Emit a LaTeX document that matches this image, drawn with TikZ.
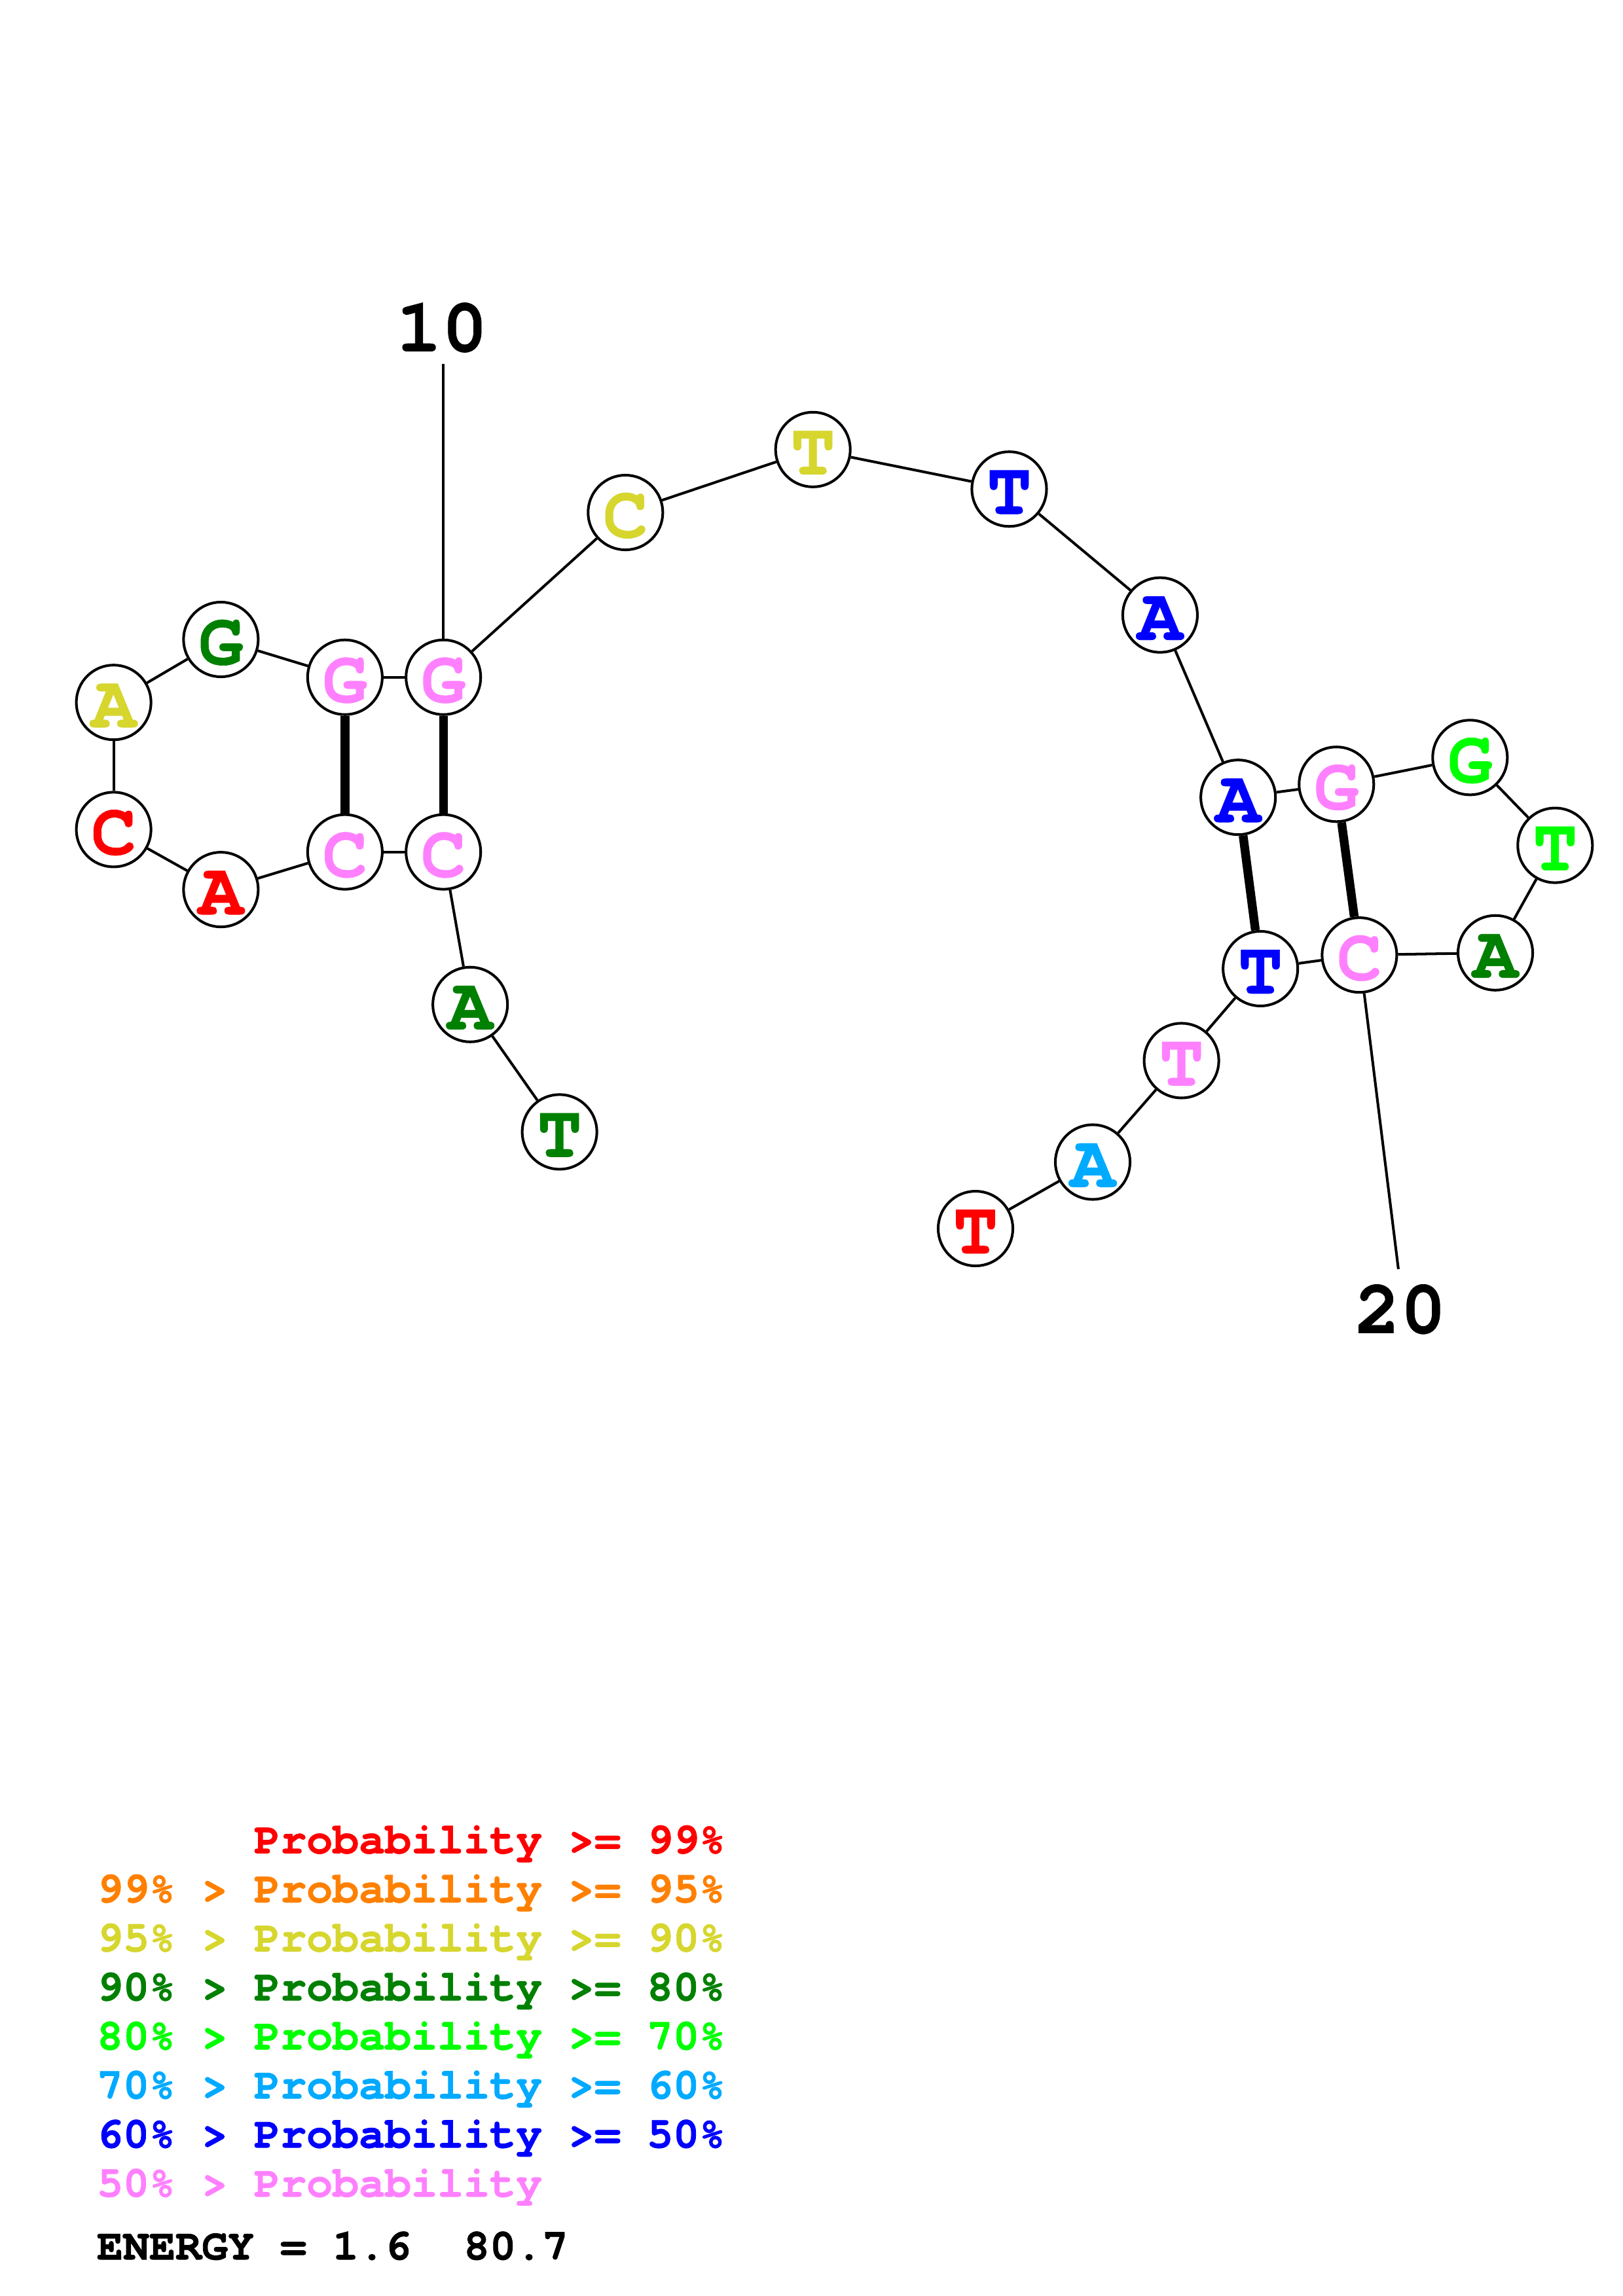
\documentclass[tikz,border=0pt]{standalone}
\usepackage{fontspec}
\newfontfamily\cur{texgyrecursor-bold}[Extension=.otf, FakeBold=0.6]
\newfontfamily\curleg{texgyrecursor-bold}[Extension=.otf, FakeBold=1.2]
\definecolor{rd}{RGB}{255,0,0}
\definecolor{og}{RGB}{255,128,0}
\definecolor{yl}{RGB}{214,214,46}
\definecolor{dg}{RGB}{0,128,0}
\definecolor{gr}{RGB}{0,255,0}
\definecolor{lb}{RGB}{0,170,255}
\definecolor{bl}{RGB}{0,0,255}
\definecolor{pk}{RGB}{255,128,255}
\tikzset{
  nt/.style={circle, draw=black, line width=1.8pt, fill=white, minimum size=51pt, inner sep=0pt,
    font=\cur\fontsize{51}{51}\selectfont, text height=34pt, text depth=0pt},
  bb/.style={line width=1.8pt},
  bp/.style={line width=6pt},
  lab/.style={inner sep=0pt, font=\cur\fontsize{52}{52}\selectfont},
  leg/.style={inner sep=0pt, anchor=base west, font=\curleg\fontsize{29.8}{29.8}\selectfont}
}
\begin{document}
\begin{tikzpicture}[x=1pt,y=-1pt]
\useasboundingbox (0,0) rectangle (1108,1568);
\node[nt, text=dg] (n1) at (382,773) {T};
\node[nt, text=dg] (n2) at (321,686) {A};
\node[nt, text=pk] (n3) at (302.7,581.8) {C};
\node[nt, text=pk] (n4) at (235.5,581.8) {C};
\node[nt, text=rd] (n5) at (150.8,607.5) {A};
\node[nt, text=rd] (n6) at (77.6,566.5) {C};
\node[nt, text=yl] (n7) at (77.6,479.7) {A};
\node[nt, text=dg] (n8) at (150.8,436.7) {G};
\node[nt, text=pk] (n9) at (235.5,462.5) {G};
\node[nt, text=pk] (n10) at (302.7,462.5) {G};
\node[nt, text=yl] (n11) at (427,350) {C};
\node[nt, text=yl] (n12) at (555,307) {T};
\node[nt, text=bl] (n13) at (689,334) {T};
\node[nt, text=bl] (n14) at (792,420) {A};
\node[nt, text=bl] (n15) at (845.3,544.5) {A};
\node[nt, text=pk] (n16) at (912.4,535.6) {G};
\node[nt, text=gr] (n17) at (1003.6,517.3) {G};
\node[nt, text=gr] (n18) at (1061.7,577.3) {T};
\node[nt, text=dg] (n19) at (1020.9,650.7) {A};
\node[nt, text=pk] (n20) at (928.1,652.2) {C};
\node[nt, text=bl] (n21) at (860.5,661.5) {T};
\node[nt, text=pk] (n22) at (806.6,724.3) {T};
\node[nt, text=lb] (n23) at (746,793.6) {A};
\node[nt, text=rd] (n24) at (666,839) {T};
\foreach \i in {1,...,23}{\pgfmathtruncatemacro\j{\i+1}\draw[bb] (n\i) -- (n\j);}
\draw[bp] (n4) -- (n9);
\draw[bp] (n3) -- (n10);
\draw[bp] (n15) -- (n21);
\draw[bp] (n16) -- (n20);
\coordinate (c10) at (302.7,248.5);
\coordinate (c20) at (954.7,866.7);
\draw[bb] (n10) -- (c10);
\draw[bb] (n20) -- (c20);
\node[lab, anchor=base] (t10) at (301.7,239.9) {10};
\node[lab, anchor=base] (t20) at (956.1,910.3) {20};
\node[leg, text=rd] (g1) at (173.3,1265.6) {Probability >= 99\%};
\node[leg, text=og] (g2) at (66,1299.1) {99\% > Probability >= 95\%};
\node[leg, text=yl] (g3) at (66,1332.6) {95\% > Probability >= 90\%};
\node[leg, text=dg] (g4) at (66,1366.1) {90\% > Probability >= 80\%};
\node[leg, text=gr] (g5) at (66,1399.6) {80\% > Probability >= 70\%};
\node[leg, text=lb] (g6) at (66,1433.1) {70\% > Probability >= 60\%};
\node[leg, text=bl] (g7) at (66,1466.6) {60\% > Probability >= 50\%};
\node[leg, text=pk] (g8) at (66,1500.1) {50\% > Probability};
\node[leg, text=black] (en) at (66,1543) {ENERGY = 1.6\ \ 80.7};
\end{tikzpicture}
\end{document}
